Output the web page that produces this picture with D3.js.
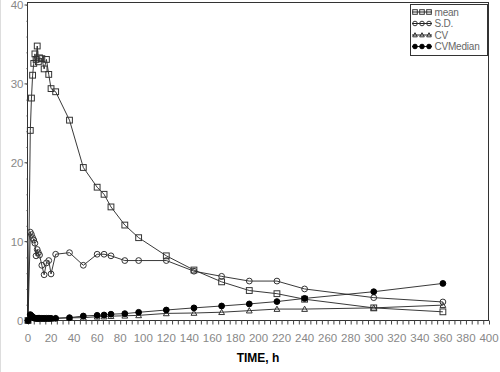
<!DOCTYPE html>
<html>
<head>
<meta charset="utf-8">
<script src="https://cdn.jsdelivr.net/npm/d3@7"></script>
<style>
  body { margin: 0; background: #fff; }
  svg { display: block; font-family: Arial, "Liberation Sans", sans-serif; }
</style>
</head>
<body>
<div id="chart"></div>
<script>
// 時間點 (h)
const times = [0, 2, 3, 4, 5, 6, 7, 8, 9, 10, 12, 14, 16, 18, 20, 24, 36, 48, 60, 66, 72, 84, 96, 120, 144, 168, 192, 216, 240, 300, 360];
// 各序列數值
const meanValues = [0, 24.1, 28.2, 31.1, 32.6, 33.8, 33.1, 34.8, 32.8, 33.3, 33.2, 31.9, 33.1, 31.2, 29.4, 29.0, 25.4, 19.4, 16.9, 16.0, 14.4, 12.1, 10.5, 8.2, 6.4, 4.9, 3.8, 3.4, 2.7, 1.6, 1.1];
const sdValues = [0, 11.2, 10.9, 10.5, 10.2, 9.8, 8.2, 9.0, 8.6, 8.3, 7.0, 5.8, 7.3, 7.6, 5.9, 8.4, 8.6, 7.0, 8.4, 8.4, 8.2, 7.6, 7.6, 7.6, 6.25, 5.6, 5.0, 5.0, 4.0, 2.9, 2.35];
const cvValues = [0, 0.47, 0.39, 0.34, 0.31, 0.29, 0.25, 0.26, 0.26, 0.25, 0.21, 0.18, 0.22, 0.24, 0.2, 0.29, 0.34, 0.36, 0.48, 0.5, 0.55, 0.6, 0.65, 0.9, 0.95, 1.05, 1.25, 1.45, 1.45, 1.6, 1.95];
const cvMedianValues = [0, 0.75, 0.6, 0.45, 0.35, 0.3, 0.28, 0.28, 0.28, 0.28, 0.28, 0.28, 0.28, 0.28, 0.28, 0.28, 0.36, 0.57, 0.66, 0.7, 0.8, 0.87, 1.04, 1.33, 1.6, 1.84, 2.1, 2.4, 2.8, 3.65, 4.7];
const seriesNames = ["mean", "S.D.", "CV", "CVMedian"];
const xTicks = d3.range(0, 401, 20);
const yTicks = [0, 10, 20, 30, 40];

const width = 500;
const height = 372;
const plot = { left: 27, right: 489, top: 2, bottom: 321 };

const series = [
    { name: seriesNames[0], values: meanValues, symbol: "square" },
    { name: seriesNames[1], values: sdValues, symbol: "circle" },
    { name: seriesNames[2], values: cvValues, symbol: "triangle" },
    { name: seriesNames[3], values: cvMedianValues, symbol: "dot" }
];

const xScale = d3.scaleLinear().domain([0, 400]).range([28, 489]);
const yScale = d3.scaleLinear().domain([0, 40]).range([320.5, 5]);

const svg = d3.select("#chart")
    .append("svg")
    .attr("width", width)
    .attr("height", height);

// 左側淡灰邊
svg.append("line")
    .attr("x1", 0.5).attr("x2", 0.5).attr("y1", 0).attr("y2", height)
    .attr("stroke", "#ddd");

// 框線
svg.append("rect")
    .attr("x", plot.left + 0.5)
    .attr("y", plot.top + 0.5)
    .attr("width", plot.right - plot.left - 1)
    .attr("height", plot.bottom - plot.top - 1)
    .attr("fill", "none")
    .attr("stroke", "#333")
    .attr("stroke-width", 1);

// x 軸
const xAxis = svg.append("g")
    .attr("transform", `translate(0, ${plot.bottom - 0.5})`);
xAxis.call(d3.axisBottom(xScale).tickValues(d3.range(0, 401, 5)).tickSize(4).tickFormat(""))
    .call(g => g.select(".domain").remove())
    .selectAll("line").attr("stroke", "#444");
xAxis.selectAll(".lbl")
    .data(xTicks)
    .enter()
    .append("text")
    .attr("class", "lbl")
    .attr("x", d => xScale(d))
    .attr("y", 21)
    .attr("text-anchor", "middle")
    .attr("font-size", 11.5)
    .attr("fill", "#888")
    .text(d => d);

// y 軸
const yAxis = svg.append("g")
    .attr("transform", `translate(${plot.left + 0.5}, 0)`);
yAxis.call(d3.axisLeft(yScale).tickValues(d3.range(0, 41, 2)).tickSize(1).tickFormat(""))
    .call(g => g.select(".domain").remove())
    .selectAll("line").attr("stroke", "#444");
yAxis.selectAll(".major")
    .data(yTicks)
    .enter()
    .append("line")
    .attr("class", "major")
    .attr("x1", -3).attr("x2", 0)
    .attr("y1", d => yScale(d)).attr("y2", d => yScale(d))
    .attr("stroke", "#444");
yAxis.selectAll(".lbl")
    .data(yTicks)
    .enter()
    .append("text")
    .attr("class", "lbl")
    .attr("x", -4)
    .attr("y", d => yScale(d))
    .attr("dy", "0.35em")
    .attr("text-anchor", "end")
    .attr("font-size", 11.5)
    .attr("fill", "#888")
    .text(d => d);

// x 軸標題
svg.append("text")
    .attr("x", (plot.left + plot.right) / 2)
    .attr("y", 362)
    .attr("text-anchor", "middle")
    .attr("font-size", 12)
    .attr("font-weight", "bold")
    .attr("fill", "#000")
    .text("TIME, h");

// 畫符號
const drawSymbol = (g, type, x, y, s) => {
    if (type === "square") {
        g.append("rect")
            .attr("x", x - s).attr("y", y - s)
            .attr("width", 2 * s).attr("height", 2 * s)
            .attr("fill", "none").attr("stroke", "#333");
    } else if (type === "circle") {
        g.append("circle")
            .attr("cx", x).attr("cy", y).attr("r", s)
            .attr("fill", "none").attr("stroke", "#333");
    } else if (type === "triangle") {
        g.append("path")
            .attr("d", `M${x},${y - s}L${x + s},${y + s * 0.8}L${x - s},${y + s * 0.8}Z`)
            .attr("fill", "none").attr("stroke", "#333");
    } else {
        g.append("circle")
            .attr("cx", x).attr("cy", y).attr("r", s)
            .attr("fill", "#000").attr("stroke", "#000");
    }
};

const line = d3.line()
    .x(d => xScale(d.t))
    .y(d => yScale(d.v));

series.forEach(s => {
    const pts = times.map((t, i) => ({ t: t, v: s.values[i] }));
    const g = svg.append("g");
    g.append("path")
        .datum(pts)
        .attr("d", line)
        .attr("fill", "none")
        .attr("stroke", "#222")
        .attr("stroke-width", 0.9);
    pts.forEach(p => drawSymbol(g, s.symbol, xScale(p.t), yScale(p.v), 2.9));
});

// 圖例
const legend = svg.append("g");
legend.append("rect")
    .attr("x", 410.5).attr("y", 4.5)
    .attr("width", 77).attr("height", 51)
    .attr("fill", "#fff")
    .attr("stroke", "#333");
series.forEach((s, i) => {
    const y = 12 + i * 11.5;
    legend.append("line")
        .attr("x1", 412).attr("x2", 432)
        .attr("y1", y).attr("y2", y)
        .attr("stroke", "#222");
    [415, 422, 429].forEach(x => drawSymbol(legend, s.symbol, x, y, 2.3));
    legend.append("text")
        .attr("x", 434.5)
        .attr("y", y)
        .attr("dy", "0.35em")
        .attr("font-size", 10)
        .attr("letter-spacing", -0.2)
        .attr("fill", "#666")
        .text(s.name);
});
</script>
</body>
</html>
